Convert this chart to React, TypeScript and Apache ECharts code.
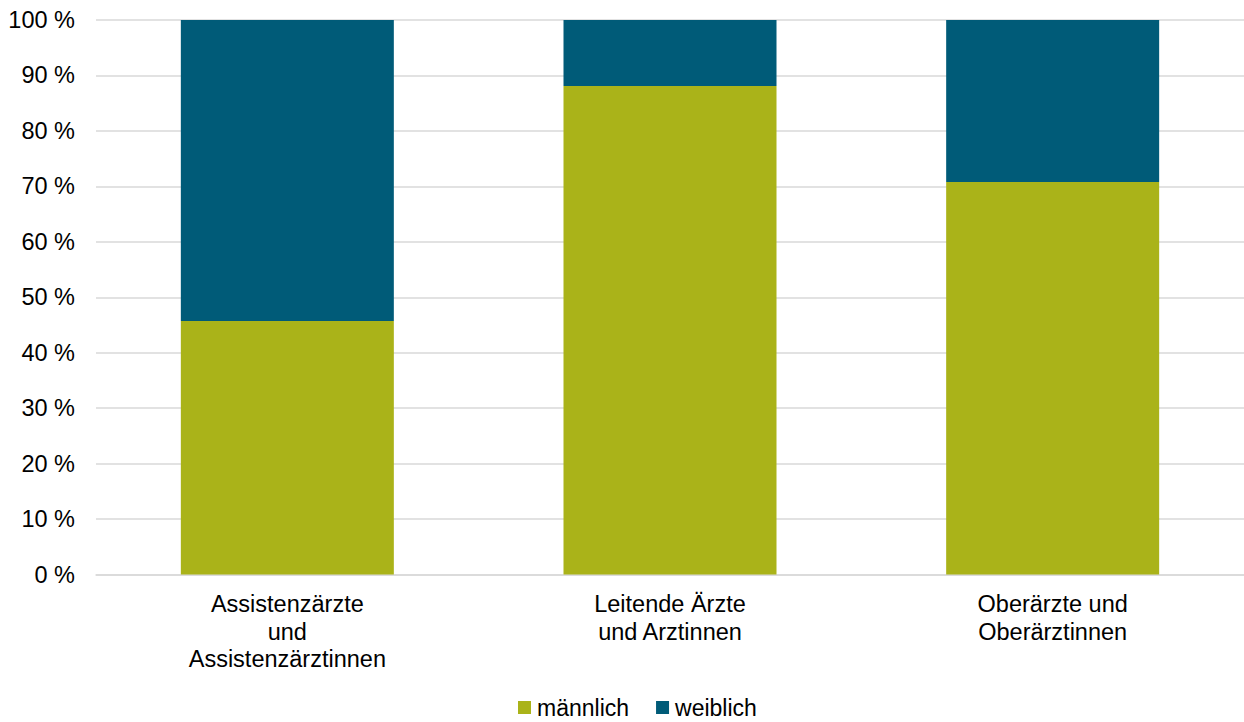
import React, { useEffect, useRef } from "react";
import * as echarts from "echarts";

const categories = [
  "Assistenzärzte\nund\nAssistenzärztinnen",
  "Leitende Ärzte\nund Arztinnen",
  "Oberärzte und\nOberärztinnen",
];
const maleValues = [45.7, 88.1, 70.8];
const femaleValues = [54.3, 11.9, 29.2];
const seriesNames = ["männlich", "weiblich"];
const colors = ["#AAB319", "#005B78"];

export default function App() {
  const ref = useRef<HTMLDivElement>(null);
  useEffect(() => {
    if (!ref.current) return;
    const chart = echarts.init(ref.current, null, { renderer: "svg" });
    const font = "'Liberation Sans', Arial, sans-serif";
    chart.setOption({
      animation: false,
      color: colors,
      grid: { left: 96, right: -2, top: 20, bottom: 147.5, containLabel: false },
      legend: {
        top: 696,
        left: 518,
        padding: 0,
        itemWidth: 13,
        itemHeight: 13,
        itemGap: 27,
        icon: "rect",
        textStyle: { fontFamily: font, fontSize: 23, color: "#000", padding: [0, 0, 0, 1] },
        data: seriesNames,
      },
      xAxis: {
        type: "category",
        data: categories,
        axisTick: { show: false },
        axisLine: { show: true, lineStyle: { color: "#D9D9D9", width: 1.5 } },
        axisLabel: {
          fontFamily: font,
          fontSize: 23.5,
          color: "#000",
          lineHeight: 27.5,
          margin: 16,
          interval: 0,
        },
      },
      yAxis: {
        type: "value",
        min: 0,
        max: 100,
        interval: 10,
        axisLine: { show: false },
        axisTick: { show: false },
        splitLine: { lineStyle: { color: "#D9D9D9", width: 1.5 } },
        axisLabel: {
          fontFamily: font,
          fontSize: 23.5,
          color: "#000",
          margin: 21,
          formatter: "{value} %",
        },
      },
      series: [
        {
          name: seriesNames[0],
          type: "bar",
          stack: "total",
          data: maleValues,
          barWidth: 213,
        },
        {
          name: seriesNames[1],
          type: "bar",
          stack: "total",
          data: femaleValues,
          barWidth: 213,
        },
      ],
    });
    return () => chart.dispose();
  }, []);
  return (
    <div
      ref={ref}
      style={{ position: "fixed", left: 0, top: 0, width: 1244, height: 722, background: "#fff" }}
    />
  );
}
